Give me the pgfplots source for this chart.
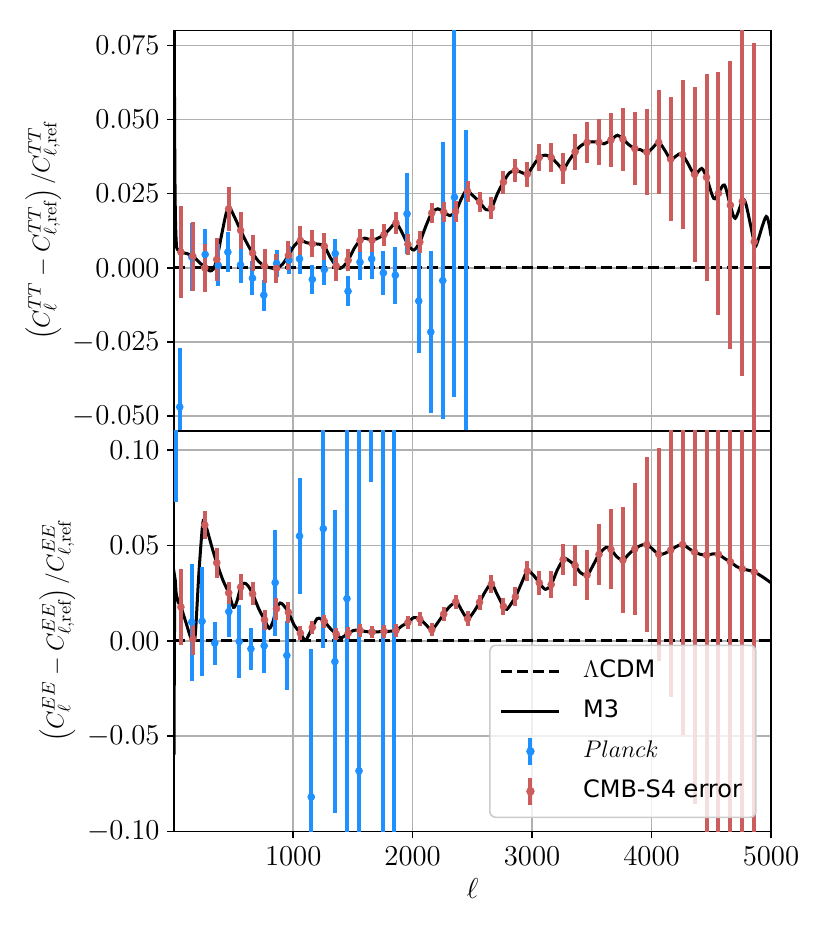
\documentclass[border=0pt]{standalone}
\usepackage{fontspec}
\usepackage{pgfplots}
\usepackage{pgfplotstable}
\pgfplotsset{compat=1.18}
\newfontfamily\dejavu{DejaVu Sans}
\definecolor{dodger}{HTML}{1E90FF}
\definecolor{indred}{HTML}{CD5C5C}
\definecolor{gridgray}{HTML}{B0B0B0}

\pgfplotstableread{
l v e
60 0.0053 0.0155
160 0.0039 0.0117
260 0.0000 0.0080
360 0.0028 0.0073
460 0.0199 0.0075
560 0.0126 0.0063
660 0.0050 0.0060
760 0.0006 0.0056
860 -0.0002 0.0050
960 0.0042 0.0050
1060 0.0092 0.0049
1160 0.0081 0.0046
1260 0.0073 0.0045
1360 0.0006 0.0049
1460 0.0025 0.0037
1560 0.0093 0.0039
1660 0.0093 0.0038
1760 0.0112 0.0037
1860 0.0151 0.0036
1960 0.0079 0.0035
2060 0.0087 0.0036
2160 0.0185 0.0035
2260 0.0188 0.0035
2360 0.0190 0.0036
2460 0.0258 0.0035
2560 0.0222 0.0035
2660 0.0202 0.0036
2760 0.0289 0.0039
2860 0.0328 0.0039
2960 0.0316 0.0042
3060 0.0372 0.0045
3160 0.0372 0.0048
3260 0.0335 0.0053
3360 0.0391 0.0060
3460 0.0423 0.0068
3560 0.0423 0.0078
3660 0.0431 0.0090
3760 0.0434 0.0106
3860 0.0402 0.0123
3960 0.0390 0.0146
4060 0.0423 0.0175
4160 0.0366 0.0209
4260 0.0382 0.0252
4360 0.0315 0.0294
4460 0.0305 0.0350
4560 0.0251 0.0410
4660 0.0211 0.0485
4760 0.0224 0.0590
4860 0.0088 0.0670
}\sfourTT

\pgfplotstableread{
l v e
50 -0.0469 0.0200
151 0.0036 0.0115
263 0.0045 0.0086
372 0.0009 0.0070
453 0.0053 0.0067
559 0.0010 0.0060
659 -0.0035 0.0057
754 -0.0092 0.0052
861 0.0015 0.0045
964 0.0026 0.0047
1053 0.0030 0.0050
1160 -0.0039 0.0048
1260 -0.0006 0.0052
1352 0.0048 0.0050
1459 -0.0079 0.0050
1559 0.0019 0.0060
1657 0.0030 0.0069
1755 -0.0017 0.0073
1855 -0.0025 0.0096
1953 0.0182 0.0136
2051 -0.0112 0.0176
2152 -0.0216 0.0272
2252 -0.0043 0.0466
2350 0.0238 0.0675
2450 -0.0600 0.1065
}\planckTT

\pgfplotstableread{
l v
2 0.12
6 0.06
10 0.03
15 0.015
22 0.008
30 0.0062
60 0.0053
110 0.0048
160 0.0039
210 0.0020
260 0.0002
300 -0.0010
330 -0.0005
360 0.0028
400 0.0110
440 0.0185
470 0.0200
510 0.0170
560 0.0126
610 0.0085
660 0.0050
710 0.0022
760 0.0006
810 0.0000
860 -0.0002
910 0.0012
960 0.0042
1010 0.0075
1060 0.0092
1110 0.0085
1160 0.0081
1210 0.0080
1260 0.0073
1310 0.0035
1360 0.0006
1390 -0.0002
1420 0.0005
1460 0.0025
1510 0.0065
1560 0.0093
1600 0.0100
1660 0.0093
1710 0.0100
1760 0.0112
1810 0.0132
1860 0.0151
1910 0.0120
1960 0.0079
2010 0.0060
2060 0.0087
2110 0.0140
2160 0.0185
2210 0.0199
2260 0.0188
2310 0.0176
2360 0.0190
2410 0.0235
2450 0.0260
2500 0.0245
2560 0.0222
2615 0.0196
2660 0.0202
2710 0.0250
2760 0.0289
2810 0.0320
2860 0.0328
2910 0.0322
2960 0.0316
3010 0.0345
3060 0.0372
3110 0.0380
3160 0.0372
3210 0.0352
3260 0.0333
3310 0.0362
3360 0.0391
3410 0.0412
3460 0.0423
3510 0.0425
3560 0.0423
3600 0.0418
3660 0.0431
3715 0.0447
3760 0.0434
3810 0.0415
3860 0.0402
3910 0.0398
3960 0.0388
4010 0.0405
4060 0.0423
4110 0.0397
4160 0.0366
4210 0.0378
4250 0.0385
4300 0.0355
4360 0.0315
4420 0.0335
4460 0.0305
4520 0.0234
4560 0.0252
4610 0.0279
4660 0.0210
4700 0.0167
4760 0.0224
4790 0.0215
4860 0.0086
4880 0.0080
4960 0.0173
5000 0.0107
}\mthreeTT

\pgfplotstableread{
l v e
60 0.0177 0.0200
160 0.0009 0.0085
260 0.0607 0.0073
360 0.0409 0.0080
460 0.0251 0.0057
560 0.0281 0.0068
660 0.0246 0.0060
760 0.0110 0.0053
860 0.0168 0.0057
960 0.0149 0.0054
1060 0.0040 0.0037
1160 0.0070 0.0035
1260 0.0102 0.0035
1360 0.0035 0.0033
1460 0.0040 0.0033
1560 0.0054 0.0032
1660 0.0046 0.0032
1760 0.0049 0.0032
1860 0.0054 0.0033
1960 0.0096 0.0033
2060 0.0114 0.0035
2160 0.0058 0.0035
2260 0.0140 0.0036
2360 0.0204 0.0037
2460 0.0116 0.0038
2560 0.0202 0.0040
2660 0.0298 0.0045
2760 0.0180 0.0045
2860 0.0230 0.0050
2960 0.0365 0.0052
3060 0.0304 0.0063
3160 0.0295 0.0070
3260 0.0426 0.0083
3360 0.0395 0.0108
3460 0.0344 0.0130
3560 0.0453 0.0158
3660 0.0479 0.0210
3760 0.0423 0.0276
3860 0.0482 0.0345
3960 0.0505 0.0460
4060 0.0453 0.0560
4160 0.0475 0.0770
4260 0.0505 0.1000
4360 0.0465 0.1320
4460 0.0449 0.1700
4560 0.0453 0.2200
4660 0.0414 0.2800
4760 0.0377 0.3600
4860 0.0361 0.4600
}\sfourEE

\pgfplotstableread{
l v e
20 0.1400 0.0670
151 0.0098 0.0307
237 0.0102 0.0286
343 -0.0012 0.0113
461 0.0153 0.0133
548 -0.0004 0.0190
646 -0.0042 0.0111
757 -0.0026 0.0144
849 0.0305 0.0278
947 -0.0077 0.0180
1053 0.0549 0.0302
1151 -0.0819 0.0775
1252 0.0588 0.0627
1349 -0.0109 0.0795
1450 0.0221 0.1500
1551 -0.0682 0.2000
1649 0.2000 0.1170
1750 0.3000 0.4500
1848 -0.2000 0.4000
}\planckEE

\pgfplotstableread{
l v
2 -0.060
5 -0.010
8 0.020
12 0.032
20 0.025
40 0.020
60 0.0177
100 0.0100
140 0.0020
160 0.0009
180 0.0030
210 0.0350
240 0.0600
255 0.0630
280 0.0580
320 0.0490
360 0.0409
410 0.0320
460 0.0251
500 0.0175
530 0.0210
560 0.0281
590 0.0302
620 0.0290
660 0.0246
710 0.0170
760 0.0110
800 0.0065
830 0.0100
860 0.0168
890 0.0198
920 0.0185
960 0.0149
1010 0.0080
1060 0.0040
1100 0.0002
1130 0.0030
1160 0.0070
1200 0.0116
1230 0.0115
1260 0.0102
1310 0.0065
1360 0.0035
1400 0.0015
1460 0.0040
1510 0.0055
1560 0.0054
1610 0.0048
1660 0.0046
1710 0.0047
1760 0.0049
1810 0.0050
1860 0.0054
1910 0.0078
1960 0.0096
2010 0.0122
2060 0.0114
2110 0.0085
2160 0.0058
2210 0.0095
2260 0.0140
2310 0.0180
2360 0.0204
2370 0.0206
2410 0.0160
2460 0.0116
2510 0.0150
2560 0.0202
2610 0.0260
2660 0.0298
2710 0.0240
2760 0.0180
2790 0.0165
2860 0.0230
2910 0.0300
2960 0.0365
3010 0.0345
3060 0.0304
3110 0.0270
3160 0.0295
3210 0.0370
3260 0.0426
3280 0.0432
3360 0.0395
3400 0.0360
3460 0.0344
3510 0.0395
3560 0.0453
3620 0.0490
3660 0.0479
3710 0.0440
3760 0.0423
3810 0.0455
3860 0.0482
3910 0.0500
3960 0.0505
4010 0.0480
4060 0.0453
4110 0.0458
4160 0.0475
4210 0.0495
4260 0.0505
4310 0.0485
4360 0.0465
4410 0.0453
4460 0.0449
4510 0.0455
4560 0.0453
4610 0.0432
4660 0.0414
4710 0.0390
4760 0.0377
4810 0.0370
4860 0.0361
4930 0.0335
5000 0.0304
}\mthreeEE

\pgfplotsset{
  panel/.style={
    scale only axis, width=298.5pt, height=200.25pt,
    xmin=2, xmax=5000,
    xtick={1000,2000,3000,4000,5000},
    grid=major,
    major grid style={gridgray, line width=0.8pt},
    axis line style={line width=0.8pt},
    tick align=outside, major tick length=3.5pt,
    tick style={black, line width=0.8pt},
    xtick pos=bottom, ytick pos=left,
    tick label style={font=\fontsize{14}{16}\selectfont},
    xlabel style={font=\fontsize{14}{16}\selectfont},
    ylabel style={font=\fontsize{12.8}{15}\selectfont},
    yticklabel style={anchor=east, inner sep=0pt, xshift=-3.5pt},
    xticklabel style={anchor=north, inner sep=0pt, yshift=-4.1pt, /pgf/number format/1000 sep={}},
    scaled ticks=false,
    clip=true,
  },
  s4/.style={only marks, mark=*, mark size=1.7pt, color=indred,
    error bars/.cd, y dir=both, y explicit, error mark=none,
    error bar style={line width=2pt, indred}},
  pl/.style={only marks, mark=*, mark size=1.7pt, color=dodger,
    error bars/.cd, y dir=both, y explicit, error mark=none,
    error bar style={line width=2pt, dodger}},
  lcdm/.style={black, line width=1.6pt, dash pattern=on 5.5pt off 2.4pt},
  m3/.style={black, line width=1.5pt, smooth, tension=0.5},
}

\begin{document}
\begin{tikzpicture}
\useasboundingbox (-87pt,-51.25pt) rectangle (328pt,415.75pt);

% top panel: TT
\begin{axis}[panel,
  at={(0pt,200.25pt)}, anchor=south west,
  ymin=-0.055, ymax=0.08,
  ytick={-0.05,-0.025,0,0.025,0.05,0.075},
  yticklabel style={/pgf/number format/.cd, fixed, fixed zerofill, precision=3},
  xticklabels={}, xmajorticks=false, xmajorgrids=true,
  ylabel={$\left(C_\ell^{TT}-C_{\ell,\mathrm{ref}}^{TT}\right)/C_{\ell,\mathrm{ref}}^{TT}$},
  ylabel style={at={(axis description cs:-0.2188,0.5)}, anchor=center},
]
\addplot[lcdm] coordinates {(2,0) (5000,0)};
\addplot[m3] table[x=l,y=v] {\mthreeTT};
\addplot[pl] table[x=l,y=v,y error=e] {\planckTT};
\addplot[s4] table[x=l,y=v,y error=e] {\sfourTT};
\end{axis}

% bottom panel: EE
\begin{axis}[panel,
  at={(0pt,0pt)}, anchor=south west,
  ymin=-0.1, ymax=0.11,
  ytick={-0.1,-0.05,0,0.05,0.1},
  yticklabel style={/pgf/number format/.cd, fixed, fixed zerofill, precision=2},
  xlabel={$\ell$},
  xlabel style={at={(axis description cs:0.5,0)}, anchor=north, inner sep=0pt, yshift=-23.25pt},
  ylabel={$\left(C_\ell^{EE}-C_{\ell,\mathrm{ref}}^{EE}\right)/C_{\ell,\mathrm{ref}}^{EE}$},
  ylabel style={at={(axis description cs:-0.1953,0.5)}, anchor=center},
  legend cell align=left,
  legend style={at={(axis description cs:0.976,0.0333)}, anchor=south east,
    draw=black!20, line width=0.8pt, fill=white, fill opacity=0.8, draw opacity=1, text opacity=1,
    rounded corners=3pt, inner sep=5pt, row sep=4pt,
    font=\fontsize{12}{14}\selectfont,
    nodes={inner sep=2pt, text height=9pt, text depth=3pt},
    /tikz/every odd column/.append style={column sep=9pt}},
]
\addplot[lcdm, /pgfplots/legend image code/.code={\draw[black, line width=1.6pt, dash pattern=on 5.5pt off 2.4pt] (0pt,0pt) -- (29pt,0pt);}] coordinates {(2,0) (5000,0)};
\addlegendentry{$\Lambda${\dejavu CDM}}
\addplot[m3, /pgfplots/legend image code/.code={\draw[black, line width=1.5pt] (0pt,0pt) -- (29pt,0pt);}] table[x=l,y=v] {\mthreeEE};
\addlegendentry{{\dejavu M3}}
\addplot[pl, /pgfplots/legend image code/.code={\path[draw=none, fill=none] (0pt,0pt) -- (29pt,0pt); \draw[dodger, line width=2pt, draw opacity=1] (14.5pt,-6.7pt) -- (14.5pt,6.7pt); \fill[dodger, fill opacity=1] (14.5pt,0pt) circle (1.7pt);}] table[x=l,y=v,y error=e] {\planckEE};
\addlegendentry{$Planck$}
\addplot[s4, /pgfplots/legend image code/.code={\path[draw=none, fill=none] (0pt,0pt) -- (29pt,0pt); \draw[indred, line width=2pt, draw opacity=1] (14.5pt,-6.7pt) -- (14.5pt,6.7pt); \fill[indred, fill opacity=1] (14.5pt,0pt) circle (1.7pt);}] table[x=l,y=v,y error=e] {\sfourEE};
\addlegendentry{{\dejavu CMB-S4 error}}
\end{axis}
\end{tikzpicture}
\end{document}
